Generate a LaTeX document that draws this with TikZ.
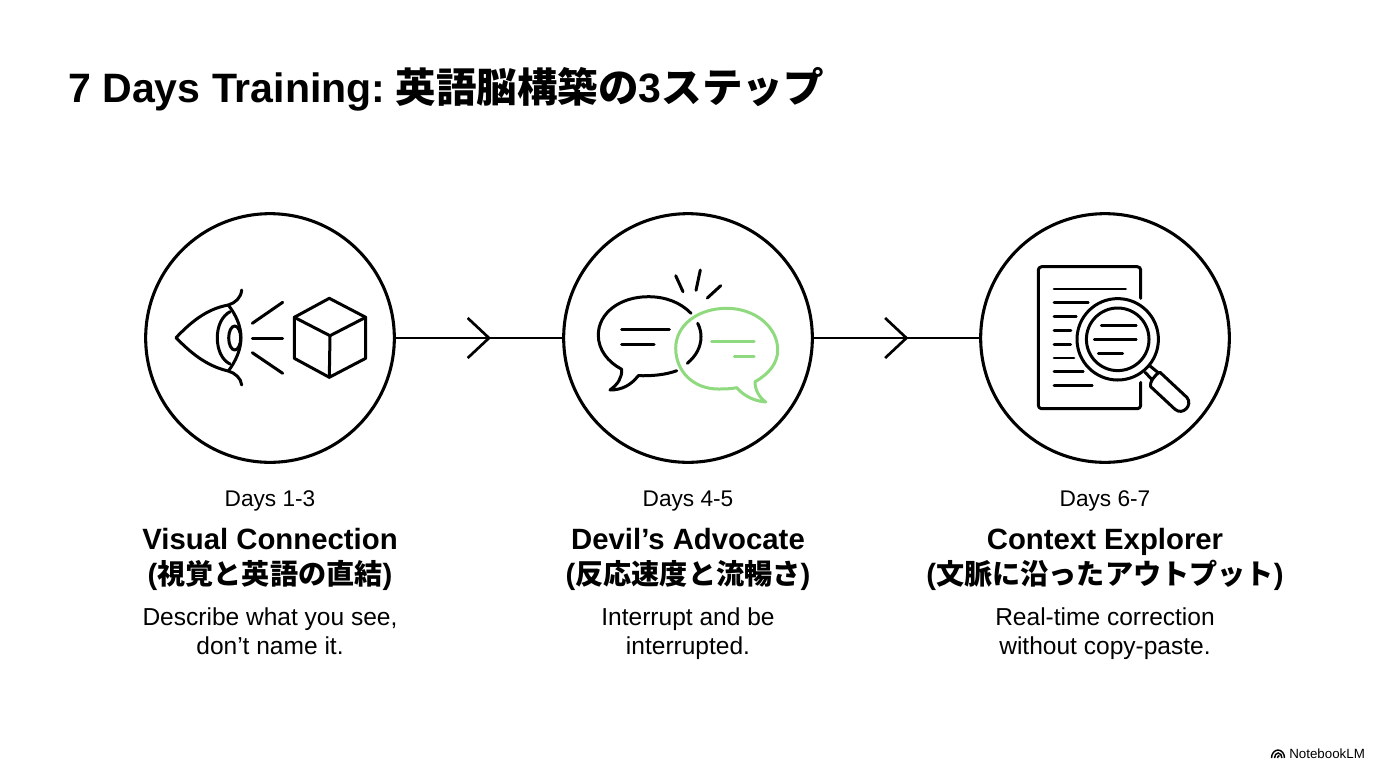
\documentclass[tikz,border=0pt]{standalone}
\usepackage{fontspec}
\usepackage{xcolor}
\setmainfont{Liberation Sans}
\newfontfamily\jpfont{Noto Sans CJK JP}
\newcommand{\jp}[1]{{\jpfont #1}}
\newcommand{\jptitle}[1]{{\jpfont\fontsize{30.4}{36}\selectfont #1}}
\newcommand{\jpsmall}[1]{{\jpfont\fontsize{21.1}{26.25}\selectfont #1}}
\newcommand{\evenline}{\vphantom{Agp}}
\usetikzlibrary{arrows.meta,decorations.markings}
\definecolor{leafgreen}{HTML}{8FD97F}
\tikzset{
    stepcircle/.style={circle,draw=black,line width=2.3pt,minimum size=186.5pt,inner sep=0pt},
    flowline/.style={line width=2pt,postaction={decorate},decoration={markings,
        mark=at position 0.572 with {\arrow{Straight Barb[length=16pt,width=30pt,line width=2pt]}}}},
    icon/.style={line width=2.25pt,line cap=round,line join=round},
    thinicon/.style={line width=2pt,line cap=round,line join=round},
    titletext/.style={anchor=base west,inner sep=0pt,font=\fontsize{30.8}{36}\selectfont\bfseries},
    daytext/.style={inner sep=0pt,font=\fontsize{17}{20}\selectfont},
    headtext/.style={inner sep=0pt,align=center,font=\fontsize{22}{26.25}\selectfont\bfseries},
    bodytext/.style={inner sep=0pt,align=center,font=\fontsize{18.4}{21.75}\selectfont},
    marktext/.style={anchor=base west,inner sep=0pt,font=\fontsize{10}{12}\selectfont}
}
\begin{document}
\begin{tikzpicture}[x=0.75pt,y=-0.75pt]
    \useasboundingbox (0,0) rectangle (1376,768);

    % Title
    \node[titletext] (title) at (68,102) {7 Days Training:\hspace{7.5pt}\jptitle{英語脳構築の}3\jptitle{ステップ}};

    % Step circles
    \node[stepcircle] (eyestep) at (270,338) {};
    \node[stepcircle] (talkstep) at (688,338) {};
    \node[stepcircle] (lensstep) at (1105,338) {};

    % Connectors
    \draw[flowline] (eyestep) -- (talkstep);
    \draw[flowline] (talkstep) -- (lensstep);

    % Eye icon
    \draw[icon] (241.7,290) .. controls (241,298) and (235,303) .. (228.3,305)
        .. controls (206,309) and (190,323) .. (176,337.7)
        .. controls (190,352) and (206,366) .. (228.3,371)
        .. controls (235,373) and (241,378) .. (241.7,385);
    \draw[icon] (228.3,305) .. controls (236,315) and (241,326) .. (241,337.7)
        .. controls (241,349) and (236,361) .. (228.3,371);
    \draw[icon] (230,311.7) .. controls (222,316) and (217.3,326) .. (217.3,337.7)
        .. controls (217.3,350) and (222,360) .. (230,364);
    \draw[icon] (234.7,338) ellipse (6 and 12);
    \draw[icon] (252.3,323.3) -- (282.7,302.3);
    \draw[icon] (252.3,338) -- (282.7,338);
    \draw[icon] (252.3,352.7) -- (282.7,373.3);

    % Cube icon
    \draw[icon] (329.3,298.3) -- (365.7,317.3) -- (365.7,358.3) -- (329.3,377.3)
        -- (294.3,358.3) -- (294.3,317.3) -- cycle;
    \draw[icon] (294.3,317.3) -- (330,335.7) -- (365.7,317.3);
    \draw[icon] (330,335.7) -- (329.3,377.3);

    % Black speech bubble
    \draw[icon] (691,313.3) .. controls (680,302) and (665,296.7) .. (648.3,296.7)
        .. controls (620,296.7) and (598.3,313) .. (598.3,335)
        .. controls (598.3,350) and (608,362) .. (621.7,369.3)
        .. controls (622,378) and (618,384) .. (610,390)
        .. controls (622,390) and (631,385) .. (638.3,375.7)
        .. controls (652,376) and (665,375) .. (676.7,370.7);
    \draw[icon] (697.7,323.3) .. controls (700,328) and (701,332) .. (701,336.7)
        .. controls (701,347) and (696,356) .. (687.3,363.3);
    \draw[icon] (621.7,329.3) -- (669.3,329.3);
    \draw[icon] (621.7,344.3) -- (654,344.3);

    % Burst lines
    \draw[icon] (675.7,275.7) -- (683,291.7);
    \draw[icon] (700.3,270) -- (696,290.3);
    \draw[icon] (720.7,285.7) -- (707.3,298);

    % Green speech bubble
    \draw[icon,leafgreen] (675.7,348.3) .. controls (675.7,325) and (698,308.3) .. (726.7,308.3)
        .. controls (755,308.3) and (777.7,327) .. (777.7,350)
        .. controls (777.7,363) and (769,374) .. (755,381.7)
        .. controls (755,390) and (759,397) .. (765.7,402)
        .. controls (754,401) and (744,396) .. (736.7,387.7)
        .. controls (730,389) and (724,389) .. (718.3,389)
        .. controls (693,389) and (675.7,371) .. (675.7,348.3);
    \draw[icon,leafgreen] (711.7,341.3) -- (754,341.3);
    \draw[icon,leafgreen] (734.3,356) -- (754,356);

    % Document icon
    \draw[icon,rounded corners=2.5pt] (1140.7,298.3) -- (1140.7,266.7) -- (1038.3,266.7)
        -- (1038.3,408.7) -- (1140.7,408.7) -- (1140.7,382.3);
    \draw[thinicon] (1054,289) -- (1125.7,289);
    \draw[thinicon] (1054,302.7) -- (1088.3,302.7);
    \draw[thinicon] (1054,316.7) -- (1076.3,316.7);
    \draw[thinicon] (1054,330.3) -- (1071,330.3);
    \draw[thinicon] (1054,344.3) -- (1070.7,344.3);
    \draw[thinicon] (1054,358) -- (1074,358);
    \draw[thinicon] (1054,371.7) -- (1083.3,371.7);
    \draw[thinicon] (1054,385.3) -- (1092.3,385.3);

    % Magnifier
    \draw[icon] (1117.7,339.3) circle (40.7);
    \draw[icon] (1117.7,339.3) circle (31.3);
    \draw[thinicon] (1101.3,325.7) -- (1136.3,325.7);
    \draw[thinicon] (1094.3,339.3) -- (1136.3,339.3);
    \draw[thinicon] (1098.3,353.3) -- (1122.7,353.3);
    \draw[icon] (1150,366) -- (1158,372.5);
    \draw[icon] (1145,372.3) -- (1152,379.5);
    \draw[icon] (1160,372.3) -- (1187,397.5)
        .. controls (1193,405) and (1183,416) .. (1175,409.3)
        -- (1150.7,386.7) .. controls (1149,383) and (1155,374) .. (1160,372.3);

    % Step 1 text
    \node[daytext] (dayone) at (270,500.5) {\evenline Days 1-3};
    \node[headtext] (headone) at (270,559) {Visual Connection\\(\jpsmall{視覚と英語の直結})};
    \node[bodytext] (bodyone) at (270,633.5) {\evenline Describe what you see,\\\evenline don’t name it.};

    % Step 2 text
    \node[daytext] (daytwo) at (688,500.8) {\evenline Days 4-5};
    \node[headtext] (headtwo) at (688,559) {Devil’s Advocate\\(\jpsmall{反応速度と流暢さ})};
    \node[bodytext] (bodytwo) at (688,633.5) {\evenline Interrupt and be\\\evenline interrupted.};

    % Step 3 text
    \node[daytext] (daythree) at (1105,500.5) {\evenline Days 6-7};
    \node[headtext] (headthree) at (1105,559) {Context Explorer\\(\jpsmall{文脈に沿ったアウトプット})};
    \node[bodytext] (bodythree) at (1105,633.5) {\evenline Real-time correction\\\evenline without copy-paste.};

    % Watermark
    \draw[line width=1.1pt] (1271.5,758) arc (180:360:6.5 and 8);
    \draw[line width=1.1pt] (1274.5,758) arc (180:360:3.7 and 5);
    \draw[line width=1.1pt] (1277.5,758) arc (180:270:2 and 2.4);
    \node[marktext] (brand) at (1289,758) {NotebookLM};
\end{tikzpicture}
\end{document}
